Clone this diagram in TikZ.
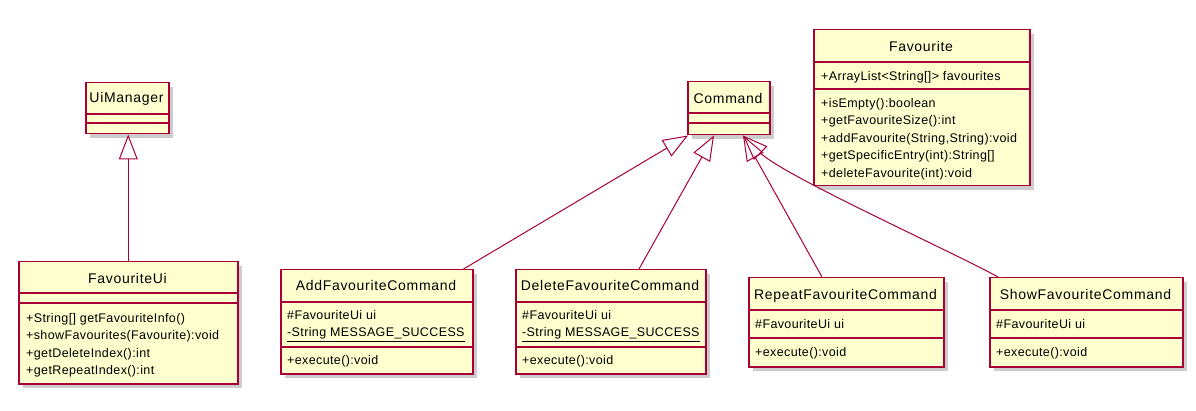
\documentclass[tikz,border=0pt]{standalone}
\usepackage{fontspec}
\setmainfont{Liberation Sans}
\newfontfamily\titlefont[LetterSpace=5]{Liberation Sans}
\newfontfamily\memberfont[LetterSpace=3]{Liberation Sans}
\usepackage{tikz}
\usetikzlibrary{arrows.meta,shadows}
\definecolor{umlred}{HTML}{A80036}
\definecolor{umlfill}{HTML}{FEFECE}

\begin{document}
\begin{tikzpicture}[x=1pt, y=-1pt,
    classbox/.style={draw=umlred, fill=umlfill, line width=1.5pt, anchor=north west, inner sep=0pt,
      drop shadow={shadow xshift=4pt, shadow yshift=-4pt, opacity=0.4}},
    divider/.style={draw=umlred, line width=1.5pt},
    title/.style={anchor=base, inner sep=0pt, font=\titlefont\fontsize{14}{16}\selectfont},
    members/.style={anchor=base west, inner sep=0pt, align=left, font=\memberfont\fontsize{12.5}{17.5}\selectfont},
    inherit/.style={draw=umlred, line width=1pt, -{Triangle[open, length=25pt, width=19pt]}}]
  \useasboundingbox (0,0) rectangle (1196,411);

  % UiManager
  \node[classbox, minimum width=83pt, minimum height=51pt] (uimanager) at (85,82) {};
  \draw[divider] (uimanager.west |- 0,114) -- (uimanager.east |- 0,114);
  \draw[divider] (uimanager.west |- 0,123) -- (uimanager.east |- 0,123);
  \node[title] (uimanager-t) at (126.5,103) {UiManager};

  % FavouriteUi (multi-line members sit on the baseline of their last line)
  \node[classbox, minimum width=219pt, minimum height=122pt] (favui) at (18,261) {};
  \draw[divider] (favui.west |- 0,293) -- (favui.east |- 0,293);
  \draw[divider] (favui.west |- 0,303) -- (favui.east |- 0,303);
  \node[title] (favui-t) at (127.5,284) {FavouriteUi};
  \node[members] (favui-m) at (26,374.5) {+String[] getFavouriteInfo()\\+showFavourites(Favourite):void\\+getDeleteIndex():int\\+getRepeatIndex():int};

  % Command
  \node[classbox, minimum width=82pt, minimum height=53pt] (command) at (687,81) {};
  \draw[divider] (command.west |- 0,113) -- (command.east |- 0,113);
  \draw[divider] (command.west |- 0,123) -- (command.east |- 0,123);
  \node[title] (command-t) at (728,104) {Command};

  % Favourite
  \node[classbox, minimum width=216pt, minimum height=156pt] (favourite) at (813,29) {};
  \draw[divider] (favourite.west |- 0,62) -- (favourite.east |- 0,62);
  \draw[divider] (favourite.west |- 0,89) -- (favourite.east |- 0,89);
  \node[title] (favourite-t) at (921,51.5) {Favourite};
  \node[members] (favourite-a) at (821,80.5) {+ArrayList<String[]> favourites};
  \node[members] (favourite-m) at (821,177.5) {+isEmpty():boolean\\+getFavouriteSize():int\\+addFavourite(String,String):void\\+getSpecificEntry(int):String[]\\+deleteFavourite(int):void};

  % AddFavouriteCommand
  \node[classbox, minimum width=192pt, minimum height=104pt] (addcmd) at (280,269) {};
  \draw[divider] (addcmd.west |- 0,302) -- (addcmd.east |- 0,302);
  \draw[divider] (addcmd.west |- 0,347) -- (addcmd.east |- 0,347);
  \node[title] (addcmd-t) at (376,290.5) {AddFavouriteCommand};
  \node[members] (addcmd-a) at (287,337) {\#FavouriteUi ui\\\underline{-String MESSAGE\_SUCCESS}};
  \node[members] (addcmd-m) at (287,364.5) {+execute():void};

  % DeleteFavouriteCommand
  \node[classbox, minimum width=190pt, minimum height=104pt] (delcmd) at (515,269) {};
  \draw[divider] (delcmd.west |- 0,302) -- (delcmd.east |- 0,302);
  \draw[divider] (delcmd.west |- 0,347) -- (delcmd.east |- 0,347);
  \node[title] (delcmd-t) at (610,290.5) {DeleteFavouriteCommand};
  \node[members] (delcmd-a) at (522,337) {\#FavouriteUi ui\\\underline{-String MESSAGE\_SUCCESS}};
  \node[members] (delcmd-m) at (522,364.5) {+execute():void};

  % RepeatFavouriteCommand
  \node[classbox, minimum width=195pt, minimum height=89pt] (repcmd) at (748,277) {};
  \draw[divider] (repcmd.west |- 0,310) -- (repcmd.east |- 0,310);
  \draw[divider] (repcmd.west |- 0,338) -- (repcmd.east |- 0,338);
  \node[title] (repcmd-t) at (845.5,300) {RepeatFavouriteCommand};
  \node[members] (repcmd-a) at (755,329) {\#FavouriteUi ui};
  \node[members] (repcmd-m) at (755,356.5) {+execute():void};

  % ShowFavouriteCommand
  \node[classbox, minimum width=193pt, minimum height=89pt] (showcmd) at (989,277) {};
  \draw[divider] (showcmd.west |- 0,310) -- (showcmd.east |- 0,310);
  \draw[divider] (showcmd.west |- 0,338) -- (showcmd.east |- 0,338);
  \node[title] (showcmd-t) at (1085.5,300) {ShowFavouriteCommand};
  \node[members] (showcmd-a) at (996,329) {\#FavouriteUi ui};
  \node[members] (showcmd-m) at (996,356.5) {+execute():void};

  % generalisations
  \draw[inherit] (favui.north) -- (favui.north |- uimanager.south);
  \draw[inherit] ([xshift=-10pt]addcmd.north east) -- ([xshift=1pt]command.south west);
  \draw[inherit] ([xshift=124pt]delcmd.north west) -- ([xshift=27pt]command.south west);
  \draw[inherit] ([xshift=74pt]repcmd.north west) -- ([xshift=56pt]command.south west);
  \draw[inherit] ([xshift=9pt]showcmd.north west) .. controls +(-45,-25) and +(40,40) .. ([xshift=56pt]command.south west);
\end{tikzpicture}
\end{document}
